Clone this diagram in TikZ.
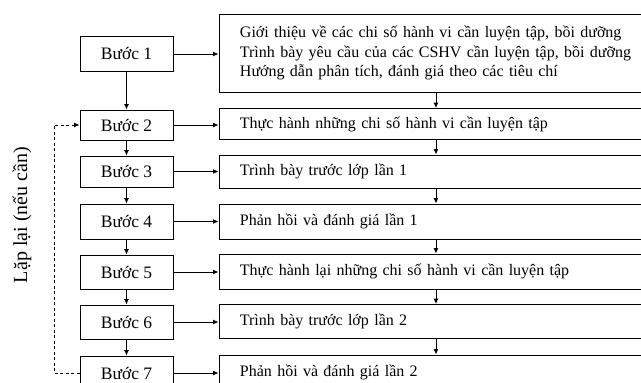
\documentclass[tikz,border=0pt]{standalone}
\usepackage{fontspec}
\setmainfont{Liberation Serif}
\usetikzlibrary{arrows.meta}
\newcommand{\coChu}[0]{\fontsize{16}{19.5}\selectfont}

\begin{document}
\begin{tikzpicture}[x=1pt, y=-1pt, line width=0.9pt, font=\coChu]
  \tikzset{buoc/.style={draw, minimum width=93pt, minimum height=34pt, inner sep=0pt,
             font=\fontsize{17.5}{20}\selectfont},
           noidung/.style={draw, anchor=west, text width=392pt, inner xsep=21pt,
             inner ysep=0pt, minimum height=34pt, align=left},
           muiten/.style={-{Latex[length=5.5pt,width=5pt]}}}
  \clip (0,0) rectangle (641,383);
  % cac buoc
  \node[buoc, minimum height=35pt] (b1) at (126.5,54) {Bước 1};
  \node[buoc, minimum height=30pt] (b2) at (126.5,125) {Bước 2};
  \node[buoc, minimum height=31pt] (b3) at (126.5,171.5) {Bước 3};
  \node[buoc, minimum height=35pt] (b4) at (126.5,221.5) {Bước 4};
  \node[buoc] (b5) at (126.5,272) {Bước 5};
  \node[buoc] (b6) at (126.5,322) {Bước 6};
  \node[buoc] (b7) at (126.5,373) {Bước 7};
  % noi dung
  \node[noidung, minimum height=78pt] (n1) at (218.5,53)
    {Giới thiệu về các chi số hành vi cần luyện tập, bồi dưỡng\\
     Trình bày yêu cầu của các CSHV cần luyện tập, bồi dưỡng\\
     Hướng dẫn phân tích, đánh giá theo các tiêu chí};
  \node[noidung, minimum height=31pt] (n2) at (218.5,124)
    {Thực hành những chi số hành vi cần luyện tập};
  \node[noidung, minimum height=33pt] (n3) at (218.5,171.5)
    {Trình bày trước lớp lần 1};
  \node[noidung, minimum height=35pt] (n4) at (218.5,221.5)
    {Phản hồi và đánh giá lần 1};
  \node[noidung, minimum height=35pt] (n5) at (218.5,271.5)
    {Thực hành lại những chi số hành vi cần luyện tập};
  \node[noidung] (n6) at (218.5,321.5)
    {Trình bày trước lớp lần 2};
  \node[noidung] (n7) at (218.5,372)
    {Phản hồi và đánh giá lần 2};
  % mui ten
  \draw[muiten] (b1) -- (b2);
  \draw[muiten] (b2) -- (b3);
  \draw[muiten] (b3) -- (b4);
  \draw[muiten] (b4) -- (b5);
  \draw[muiten] (b5) -- (b6);
  \draw[muiten] (b6) -- (b7);
  \draw[muiten] (n1) -- (n2);
  \draw[muiten] (n2) -- (n3);
  \draw[muiten] (n3) -- (n4);
  \draw[muiten] (n4) -- (n5);
  \draw[muiten] (n5) -- (n6);
  \draw[muiten] (n6) -- (n7);
  \draw[muiten] (b1.east) -- (b1.east -| n1.west);
  \draw[muiten] (b2.east) -- (b2.east -| n2.west);
  \draw[muiten] (b3.east) -- (b3.east -| n3.west);
  \draw[muiten] (b4.east) -- (b4.east -| n4.west);
  \draw[muiten] (b5.east) -- (b5.east -| n5.west);
  \draw[muiten] (b6.east) -- (b6.east -| n6.west);
  \draw[muiten] (b7.east) -- (b7.east -| n7.west);
  % lap lai
  \coordinate (vong) at (54,0);
  \draw[muiten, dashed, dash pattern=on 3pt off 2.5pt]
    (b7.west) -- (b7.west -| vong) -- (b2.west -| vong) -- (b2.west);
  \node[rotate=90, font=\fontsize{20}{24}\selectfont] (lap) at (22,215) {Lặp lại (nếu cần)};
\end{tikzpicture}
\end{document}
